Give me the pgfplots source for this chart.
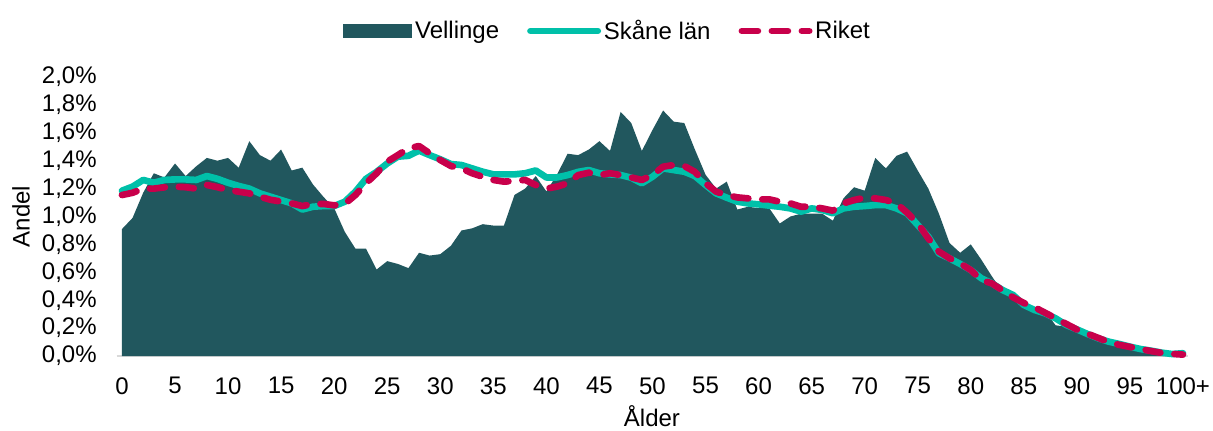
\documentclass[border=0pt]{standalone}
\usepackage{pgfplots}
\pgfplotsset{compat=1.18}
\usepackage{pgfplotstable}
\usepackage{fontspec}
\setmainfont{Liberation Sans}
\definecolor{vellinge}{HTML}{21575E}
\definecolor{skane}{HTML}{00C0A9}
\definecolor{riket}{HTML}{C8004B}
\definecolor{axisgray}{HTML}{D9D9D9}
\pgfplotstableread{
age vel ska rik
0 0.91 1.185 1.154
1 0.99 1.214 1.17
2 1.17 1.262 1.20
3 1.31 1.242 1.20
4 1.28 1.262 1.209
5 1.38 1.266 1.214
6 1.29 1.266 1.21
7 1.36 1.262 1.20
8 1.42 1.29 1.226
9 1.40 1.27 1.21
10 1.42 1.242 1.19
11 1.35 1.219 1.178
12 1.54 1.20 1.166
13 1.44 1.166 1.142
14 1.40 1.142 1.12
15 1.48 1.118 1.107
16 1.33 1.094 1.094
17 1.35 1.05 1.075
18 1.23 1.07 1.09
19 1.14 1.075 1.09
20 1.06 1.075 1.08
21 0.89 1.106 1.09
22 0.77 1.178 1.154
23 0.77 1.27 1.238
24 0.62 1.32 1.31
25 0.68 1.38 1.393
26 0.66 1.429 1.44
27 0.63 1.435 1.489
28 0.74 1.472 1.505
29 0.72 1.44 1.453
30 0.73 1.41 1.405
31 0.79 1.376 1.362
32 0.90 1.369 1.345
33 0.915 1.345 1.31
34 0.945 1.321 1.285
35 0.935 1.302 1.262
36 0.935 1.302 1.25
37 1.155 1.302 1.255
38 1.20 1.31 1.262
39 1.29 1.33 1.226
40 1.18 1.28 1.20
41 1.30 1.28 1.214
42 1.45 1.297 1.238
43 1.44 1.32 1.297
44 1.48 1.333 1.314
45 1.54 1.31 1.297
46 1.47 1.302 1.31
47 1.75 1.297 1.297
48 1.67 1.278 1.28
49 1.47 1.238 1.262
50 1.62 1.285 1.297
51 1.76 1.345 1.357
52 1.68 1.333 1.369
53 1.67 1.321 1.362
54 1.48 1.29 1.32
55 1.30 1.226 1.238
56 1.20 1.166 1.178
57 1.25 1.135 1.154
58 1.05 1.106 1.137
59 1.07 1.094 1.13
60 1.06 1.087 1.123
61 1.06 1.078 1.123
62 0.95 1.07 1.106
63 1.00 1.058 1.094
64 1.02 1.035 1.07
65 1.02 1.058 1.07
66 1.02 1.047 1.058
67 0.97 1.023 1.042
68 1.13 1.058 1.094
69 1.21 1.07 1.118
70 1.185 1.075 1.135
71 1.42 1.082 1.13
72 1.345 1.082 1.118
73 1.435 1.058 1.094
74 1.465 1.023 1.027
75 1.33 0.939 0.951
76 1.20 0.855 0.843
77 1.02 0.736 0.748
78 0.81 0.70 0.70
79 0.74 0.66 0.664
80 0.80 0.616 0.616
81 0.69 0.557 0.545
82 0.57 0.521 0.52
83 0.46 0.473 0.47
84 0.42 0.437 0.42
85 0.37 0.366 0.38
86 0.34 0.33 0.35
87 0.32 0.306 0.31
88 0.22 0.27 0.27
89 0.21 0.222 0.23
90 0.19 0.191 0.19
91 0.15 0.158 0.16
92 0.12 0.127 0.13
93 0.09 0.103 0.10
94 0.075 0.086 0.08
95 0.06 0.067 0.065
96 0.045 0.05 0.05
97 0.03 0.038 0.035
98 0.02 0.024 0.022
99 0.01 0.014 0.015
100 0.01 0.02 0.01
}\data
\begin{document}
\begin{tikzpicture}
\useasboundingbox (0,0) rectangle (909.75pt,322.5pt);
\begin{axis}[
  at={(87.5pt,55.5pt)}, anchor=south west,
  scale only axis, width=803.7pt, height=209.25pt,
  xmin=-0.5, xmax=100.5, ymin=0, ymax=2.0,
  xtick={0,5,10,15,20,25,30,35,40,45,50,55,60,65,70,75,80,85,90,95,100},
  xticklabels={0,5,10,15,20,25,30,35,40,45,50,55,60,65,70,75,80,85,90,95,100+},
  ytick={0,0.2,0.4,0.6,0.8,1,1.2,1.4,1.6,1.8,2},
  yticklabels={{0,0\%},{0,2\%},{0,4\%},{0,6\%},{0,8\%},{1,0\%},{1,2\%},{1,4\%},{1,6\%},{1,8\%},{2,0\%}},
  major tick length=0pt,
  axis x line*=bottom, axis y line*=left,
  y axis line style={draw=none},
  x axis line style={draw=axisgray, line width=1.5pt},
  font=\fontsize{18}{21.5}\selectfont,
  tick label style={font=\fontsize{18}{21.5}\selectfont},
  xticklabel style={yshift=-12.5pt},
  yticklabel style={xshift=-11.5pt},
  xlabel={Ålder}, ylabel={Andel},
  xlabel style={at={(axis description cs:0.4995,-0.252)}, anchor=base},
  ylabel style={at={(axis description cs:-0.0893,0.5)}, anchor=center},
  legend columns=3,
  legend style={draw=none, fill=none, at={(axis description cs:0.4585,1.165)}, anchor=center,
    font=\fontsize{18}{21.5}\selectfont,
    /tikz/every even column/.append style={column sep=19pt}},
  clip=false,
]
\addplot[fill=vellinge, draw=none,
  legend image code/.code={\fill[vellinge] (0pt,-5.25pt) rectangle (51.75pt,5.25pt);}]
  table[x=age,y=vel]{\data} \closedcycle;
\addlegendentry{Vellinge}
\addplot[skane, line width=5pt, line cap=round, line join=round, no marks,
  legend image code/.code={\draw[skane, line width=5pt, line cap=round] (2.5pt,0pt) -- (53pt,0pt);}]
  table[x=age,y=ska]{\data};
\addlegendentry{Skåne län}
\addplot[riket, line width=5pt, line cap=round, line join=round, no marks,
  dash pattern=on 11.25pt off 10.5pt,
  legend image code/.code={\draw[riket, line width=5pt, line cap=round, dash pattern=on 12pt off 10.5pt] (2.5pt,0pt) -- (53pt,0pt);}]
  table[x=age,y=rik]{\data};
\addlegendentry{Riket}
\end{axis}
\end{tikzpicture}
\end{document}
